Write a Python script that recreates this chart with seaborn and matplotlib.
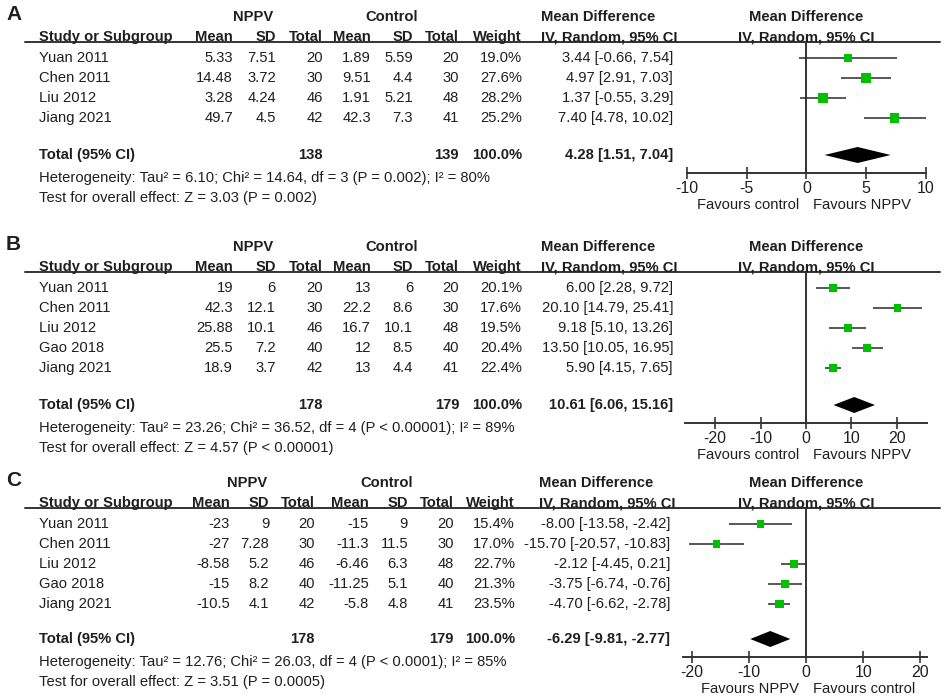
import numpy as np
import pandas as pd
import matplotlib
matplotlib.use("Agg")
import matplotlib.pyplot as plt
import seaborn as sns

sns.set_theme(style="white")
plt.rcParams["font.family"] = ["Liberation Sans", "DejaVu Sans"]

# ---- data: panel A ----
studies_a = ["Yuan 2011", "Chen 2011", "Liu 2012", "Jiang 2021"]
nppv_mean_a = ["5.33", "14.48", "3.28", "49.7"]
nppv_sd_a = ["7.51", "3.72", "4.24", "4.5"]
nppv_n_a = [20, 30, 46, 42]
ctrl_mean_a = ["1.89", "9.51", "1.91", "42.3"]
ctrl_sd_a = ["5.59", "4.4", "5.21", "7.3"]
ctrl_n_a = [20, 30, 48, 41]
weight_a = [19.0, 27.6, 28.2, 25.2]
md_a = [3.44, 4.97, 1.37, 7.40]
lo_a = [-0.66, 2.91, -0.55, 4.78]
hi_a = [7.54, 7.03, 3.29, 10.02]
total_a = (138, 139, 4.28, 1.51, 7.04)
het_a = "Heterogeneity: Tau² = 6.10; Chi² = 14.64, df = 3 (P = 0.002); I² = 80%"
test_a = "Test for overall effect: Z = 3.03 (P = 0.002)"
ticks_a = [-10, -5, 0, 5, 10]
fav_a = ("Favours control", "Favours NPPV")

# ---- data: panel B ----
studies_b = ["Yuan 2011", "Chen 2011", "Liu 2012", "Gao 2018", "Jiang 2021"]
nppv_mean_b = ["19", "42.3", "25.88", "25.5", "18.9"]
nppv_sd_b = ["6", "12.1", "10.1", "7.2", "3.7"]
nppv_n_b = [20, 30, 46, 40, 42]
ctrl_mean_b = ["13", "22.2", "16.7", "12", "13"]
ctrl_sd_b = ["6", "8.6", "10.1", "8.5", "4.4"]
ctrl_n_b = [20, 30, 48, 40, 41]
weight_b = [20.1, 17.6, 19.5, 20.4, 22.4]
md_b = [6.00, 20.10, 9.18, 13.50, 5.90]
lo_b = [2.28, 14.79, 5.10, 10.05, 4.15]
hi_b = [9.72, 25.41, 13.26, 16.95, 7.65]
total_b = (178, 179, 10.61, 6.06, 15.16)
het_b = "Heterogeneity: Tau² = 23.26; Chi² = 36.52, df = 4 (P < 0.00001); I² = 89%"
test_b = "Test for overall effect: Z = 4.57 (P < 0.00001)"
ticks_b = [-20, -10, 0, 10, 20]
fav_b = ("Favours control", "Favours NPPV")

# ---- data: panel C ----
studies_c = ["Yuan 2011", "Chen 2011", "Liu 2012", "Gao 2018", "Jiang 2021"]
nppv_mean_c = ["-23", "-27", "-8.58", "-15", "-10.5"]
nppv_sd_c = ["9", "7.28", "5.2", "8.2", "4.1"]
nppv_n_c = [20, 30, 46, 40, 42]
ctrl_mean_c = ["-15", "-11.3", "-6.46", "-11.25", "-5.8"]
ctrl_sd_c = ["9", "11.5", "6.3", "5.1", "4.8"]
ctrl_n_c = [20, 30, 48, 40, 41]
weight_c = [15.4, 17.0, 22.7, 21.3, 23.5]
md_c = [-8.00, -15.70, -2.12, -3.75, -4.70]
lo_c = [-13.58, -20.57, -4.45, -6.74, -6.62]
hi_c = [-2.42, -10.83, 0.21, -0.76, -2.78]
total_c = (178, 179, -6.29, -9.81, -2.77)
het_c = "Heterogeneity: Tau² = 12.76; Chi² = 26.03, df = 4 (P < 0.0001); I² = 85%"
test_c = "Test for overall effect: Z = 3.51 (P = 0.0005)"
ticks_c = [-20, -10, 0, 10, 20]
fav_c = ("Favours NPPV", "Favours control")

W, H = 945, 697
TXT = "#1f1f1f"
GREEN = "#00c000"
FS = 10.6

fig = plt.figure(figsize=(W / 100, H / 100), dpi=100)
bg = fig.add_axes([0, 0, 1, 1])
bg.set_xlim(0, W)
bg.set_ylim(H, 0)
bg.axis("off")


def t(x, y, s, ha="right", bold=False, size=FS):
    bg.text(x, y, s, ha=ha, va="center", fontsize=size, color=TXT,
            fontweight="bold" if bold else "normal")


def panel(letter, top, studies, nm, nsd, nn, cm, csd, cn, wt, md, lo, hi,
          total, het, test, ticks, xlim, plot_lr, fav, cols, total_gap):
    (c_m, c_sd, c_n, c_cm, c_csd, c_cn, c_w, c_ci, c_nppv, c_ctrl, c_md) = cols
    df = pd.DataFrame({"study": studies, "md": md, "lo": lo, "hi": hi, "w": wt})
    y_group = top
    y_head = top + 20
    y_line = top + 25
    y0 = top + 41
    df["y"] = y0 + 20 * np.arange(len(df))
    y_tot = y0 + 20 * total_gap
    y_het = y_tot + 23
    y_test = y_het + 20
    y_axis = y_tot + 18

    t(6, top - 2, letter, ha="left", bold=True, size=15)
    t(c_nppv, y_group, "NPPV", ha="center", bold=True)
    t(c_ctrl, y_group, "Control", ha="center", bold=True)
    t(c_md, y_group, "Mean Difference", ha="left", bold=True)
    t(806, y_group, "Mean Difference", ha="center", bold=True)
    t(39, y_head, "Study or Subgroup", ha="left", bold=True)
    for x, s in zip([c_m, c_sd, c_n, c_cm, c_csd, c_cn, c_w],
                    ["Mean", "SD", "Total", "Mean", "SD", "Total", "Weight"]):
        t(x, y_head, s, bold=True)
    t(c_md, y_head, "IV, Random, 95% CI", ha="left", bold=True)
    t(806, y_head, "IV, Random, 95% CI", ha="center", bold=True)
    bg.plot([25, 940], [y_line, y_line], color="#333333", lw=1.4)

    for i, r in df.iterrows():
        y = r["y"]
        t(39, y, r["study"], ha="left")
        t(c_m, y, nm[i]); t(c_sd, y, nsd[i]); t(c_n, y, str(nn[i]))
        t(c_cm, y, cm[i]); t(c_csd, y, csd[i]); t(c_cn, y, str(cn[i]))
        t(c_w, y, f"{r['w']:.1f}%")
        t(c_ci, y, f"{r['md']:.2f} [{r['lo']:.2f}, {r['hi']:.2f}]")

    tn, tc, tmd, tlo, thi = total
    t(39, y_tot, "Total (95% CI)", ha="left", bold=True)
    t(c_n, y_tot, str(tn), bold=True)
    t(c_cn, y_tot, str(tc), bold=True)
    t(c_w, y_tot, "100.0%", bold=True)
    t(c_ci, y_tot, f"{tmd:.2f} [{tlo:.2f}, {thi:.2f}]", bold=True)
    t(39, y_het, het, ha="left")
    t(39, y_test, test, ha="left")

    # forest plot axes, y in pixel units
    L, R = plot_lr
    ax = fig.add_axes([L / W, 1 - y_axis / H, (R - L) / W, (y_axis - y_line) / H])
    ax.set_xlim(*xlim)
    ax.set_ylim(y_axis, y_line)
    ax.patch.set_alpha(0)
    for s in ["top", "left", "right"]:
        ax.spines[s].set_visible(False)
    ax.spines["bottom"].set_color("#333333")
    ax.spines["bottom"].set_linewidth(1.4)
    ax.axvline(0, color="#333333", lw=1.4)
    ax.hlines(df["y"], df["lo"], df["hi"], color="#2a2a2a", lw=1.1)
    # square area proportional to study weight
    sns.scatterplot(data=df, x="md", y="y", marker="s", size="w",
                    sizes=(0, 170), size_norm=(0, 100),
                    color=GREEN, edgecolor="none", ax=ax, legend=False, zorder=3)
    ax.fill([tlo, tmd, thi, tmd], [y_tot, y_tot - 8, y_tot, y_tot + 8],
            color="black", lw=0)
    ax.set_xticks(ticks)
    ax.set_xticklabels([str(v) for v in ticks])
    ax.tick_params(axis="x", direction="inout", length=9, width=1.2,
                   color="#333333", labelsize=11.5, labelcolor=TXT, pad=1,
                   bottom=True)
    ax.set_yticks([])
    ax.set_xlabel("")
    ax.set_ylabel("")
    t(799, y_axis + 32, fav[0])
    t(813, y_axis + 32, fav[1], ha="left")


cols_ab = (233, 276, 323, 371, 413, 459, 522, 673, 253, 392, 541)
cols_cc = (230, 269, 315, 369, 408, 454, 515, 670, 247, 387, 539)

panel("A", 17, studies_a, nppv_mean_a, nppv_sd_a, nppv_n_a, ctrl_mean_a,
      ctrl_sd_a, ctrl_n_a, weight_a, md_a, lo_a, hi_a, total_a, het_a, test_a,
      ticks_a, (-10, 10), (687, 926), fav_a, cols_ab, 4.85)
panel("B", 247, studies_b, nppv_mean_b, nppv_sd_b, nppv_n_b, ctrl_mean_b,
      ctrl_sd_b, ctrl_n_b, weight_b, md_b, lo_b, hi_b, total_b, het_b, test_b,
      ticks_b, (-26.6, 26.6), (685, 927), fav_b, cols_ab, 5.85)
panel("C", 483, studies_c, nppv_mean_c, nppv_sd_c, nppv_n_c, ctrl_mean_c,
      ctrl_sd_c, ctrl_n_c, weight_c, md_c, lo_c, hi_c, total_c, het_c, test_c,
      ticks_c, (-21.6, 21.2), (683, 927), fav_c, cols_cc, 5.75)

fig.savefig("out.png", dpi=100)
